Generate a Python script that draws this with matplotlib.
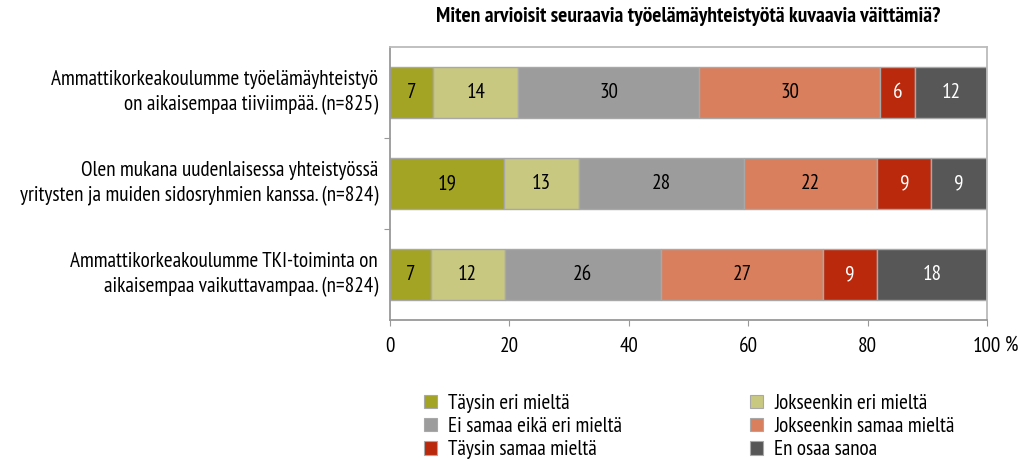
import matplotlib
matplotlib.use("Agg")
import matplotlib.pyplot as plt
from matplotlib import font_manager
from matplotlib.patches import Patch

names = {f.name for f in font_manager.fontManager.ttflist}
FAM = 'DejaVu Sans'
for cand in ['PT Sans Narrow', 'Fira Sans Condensed', 'Roboto Condensed', 'Archivo Narrow',
             'Asap Condensed', 'Encode Sans Condensed', 'Barlow Semi Condensed',
             'IBM Plex Sans Condensed', 'Liberation Sans Narrow']:
    if cand in names:
        FAM = cand
        break
plt.rcParams['font.family'] = [FAM, 'DejaVu Sans']

title = "Miten arvioisit seuraavia työelämäyhteistyötä kuvaavia väittämiä?"
categories = [
    "Ammattikorkeakoulumme työelämäyhteistyö\non aikaisempaa tiiviimpää. (n=825)",
    "Olen mukana uudenlaisessa yhteistyössä\nyritysten ja muiden sidosryhmien kanssa. (n=824)",
    "Ammattikorkeakoulumme TKI-toiminta on\naikaisempaa vaikuttavampaa. (n=824)",
]
series = ["Täysin eri mieltä", "Jokseenkin eri mieltä", "Ei samaa eikä eri mieltä",
          "Jokseenkin samaa mieltä", "Täysin samaa mieltä", "En osaa sanoa"]
taysin_eri = [7.2, 19.1, 6.8]
jokseenkin_eri = [14.3, 12.6, 12.4]
ei_samaa = [30.3, 27.6, 26.2]
jokseenkin_samaa = [30.3, 22.3, 27.1]
taysin_samaa = [5.8, 9.1, 9.1]
en_osaa = [12.1, 9.3, 18.4]
values = [taysin_eri, jokseenkin_eri, ei_samaa, jokseenkin_samaa, taysin_samaa, en_osaa]
colors = ["#A3A324", "#C8C880", "#9C9C9C", "#D97F5D", "#BA290C", "#575757"]
text_colors = ["black", "black", "black", "black", "white", "white"]
xticks = [0, 20, 40, 60, 80, 100]

FS = 15.2

fig = plt.figure(figsize=(10.19, 4.61), dpi=100)
ax = fig.add_axes([390/1019, 1-320/461, 597/1019, 273/461])

ypos = list(range(len(categories)))
left = [0.0]*len(categories)
for vals, col, tc in zip(values, colors, text_colors):
    bars = ax.barh(ypos, vals, left=left, height=0.55, color=col,
                   edgecolor="#A8A8A8", linewidth=1.0)
    for b, v in zip(bars, vals):
        ax.text(b.get_x()+b.get_width()/2, b.get_y()+b.get_height()/2,
                f"{round(v):d}", ha="center", va="center", fontsize=FS, color=tc)
    left = [l+v for l, v in zip(left, vals)]

ax.set_xlim(0, 100)
ax.set_ylim(len(categories)-0.5, -0.5)
ax.set_xticks(xticks)
ax.set_xticklabels([str(t) for t in xticks], fontsize=FS)
ax.set_yticks([0.5, 1.5])
ax.set_yticklabels([])
ax.tick_params(axis='y', length=4, color="#999999")
ax.tick_params(axis='x', length=4, color="#999999", pad=8)
for t, lab in zip(ypos, categories):
    ax.text(-0.02, t, lab, transform=ax.get_yaxis_transform(), ha="right", va="center",
            fontsize=FS, linespacing=1.36)
for s in ["left", "bottom"]:
    ax.spines[s].set_color("#999999")
    ax.spines[s].set_linewidth(1.3)
for s in ["top", "right"]:
    ax.spines[s].set_color("#BBBBBB")
    ax.spines[s].set_linewidth(1.3)

fig.text(1012/1019, 1-345/461, "%", ha="center", va="center", fontsize=FS)
fig.text(688/1019, 1-17/461, title, ha="center", va="center", fontsize=15.5, fontweight="bold")

handles = [Patch(facecolor=c, edgecolor="#A8A8A8", linewidth=0.8) for c in colors]
leg_kw = dict(frameon=False, fontsize=FS, handlelength=0.6, handleheight=0.6,
              handletextpad=0.55, labelspacing=0.2, borderaxespad=0, borderpad=0)
fig.legend([handles[i] for i in (0, 2, 4)], [series[i] for i in (0, 2, 4)],
           loc="upper left", bbox_to_anchor=(424/1019, 1-394/461), **leg_kw)
fig.legend([handles[i] for i in (1, 3, 5)], [series[i] for i in (1, 3, 5)],
           loc="upper left", bbox_to_anchor=(750/1019, 1-394/461), **leg_kw)

fig.savefig("out.png", dpi=100)
